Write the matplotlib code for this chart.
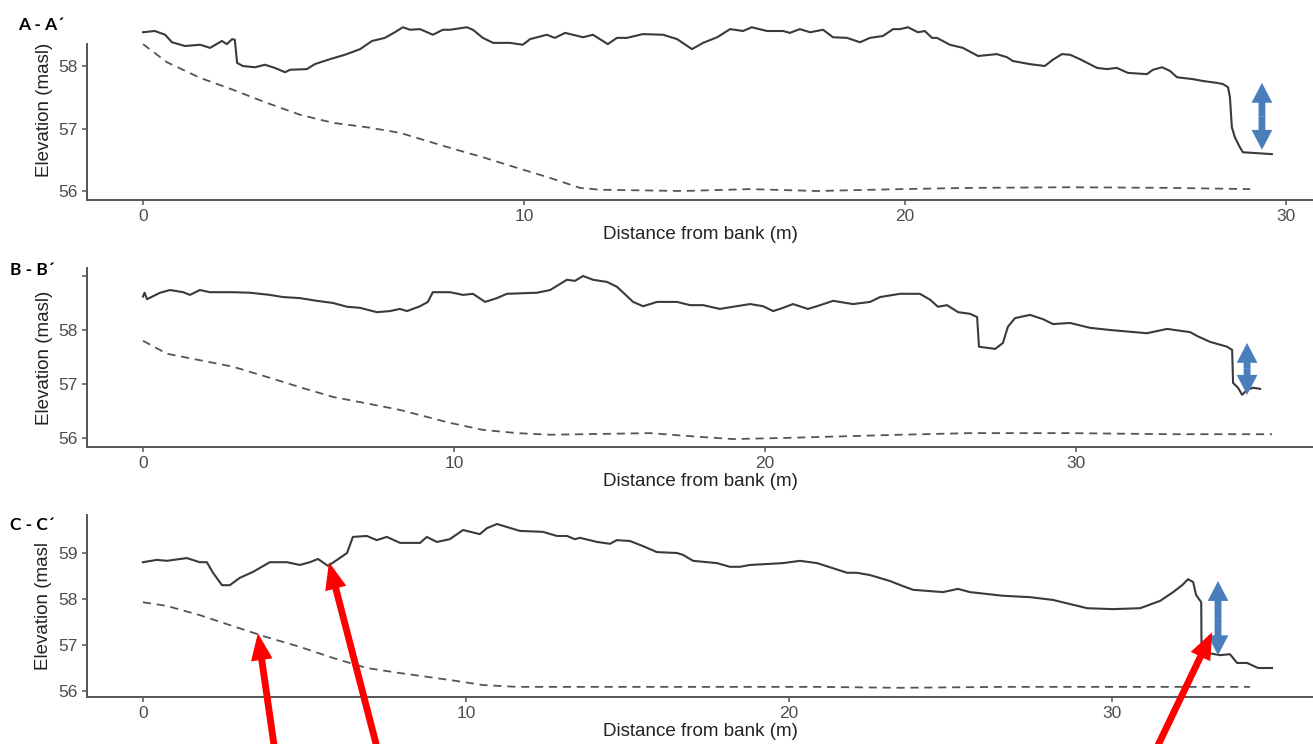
import matplotlib
matplotlib.use("Agg")
import matplotlib.pyplot as plt
from matplotlib.patches import Rectangle

plt.rcParams['font.family'] = ['Liberation Sans', 'DejaVu Sans']

# ---- data (distance m, elevation masl) ----
a_dist = [0.00, 0.31, 0.58, 0.76, 1.10, 1.50, 1.76, 2.07, 2.20, 2.34, 2.41, 2.47, 2.62, 2.94,
          3.20, 3.46, 3.73, 3.86, 4.30, 4.51, 4.91, 5.30, 5.70, 6.01, 6.35, 6.61, 6.82, 7.01,
          7.27, 7.61, 7.87, 8.06, 8.50, 8.66, 8.92, 9.19, 9.63, 9.97, 10.16, 10.60, 10.81,
          11.08, 11.55, 11.81, 12.20, 12.44, 12.70, 13.12, 13.65, 14.02, 14.41, 14.70, 15.07,
          15.41, 15.75, 15.98, 16.38, 16.80, 16.98, 17.24, 17.51, 17.85, 18.11, 18.48, 18.82,
          19.08, 19.42, 19.69, 19.87, 20.08, 20.34, 20.52, 20.71, 20.84, 21.18, 21.52, 21.92,
          22.41, 22.68, 22.83, 23.28, 23.67, 23.88, 24.12, 24.33, 24.59, 25.04, 25.30, 25.56,
          25.85, 26.35, 26.51, 26.75, 26.96, 27.14, 27.56, 27.82, 28.19, 28.35, 28.48, 28.53,
          28.58, 28.66, 28.79, 28.87, 29.13, 29.63]
a_surface = [58.54, 58.56, 58.50, 58.38, 58.32, 58.34, 58.29, 58.40, 58.35, 58.43, 58.42, 58.05,
             58.00, 57.98, 58.02, 57.97, 57.90, 57.94, 57.95, 58.03, 58.11, 58.18, 58.27, 58.40,
             58.45, 58.54, 58.62, 58.58, 58.59, 58.50, 58.58, 58.58, 58.62, 58.58, 58.45, 58.37,
             58.37, 58.34, 58.43, 58.50, 58.45, 58.53, 58.46, 58.50, 58.35, 58.45, 58.45, 58.51,
             58.50, 58.43, 58.27, 58.37, 58.46, 58.59, 58.56, 58.62, 58.56, 58.56, 58.53, 58.59,
             58.54, 58.58, 58.46, 58.45, 58.38, 58.45, 58.48, 58.59, 58.59, 58.62, 58.54, 58.56,
             58.45, 58.45, 58.34, 58.29, 58.16, 58.19, 58.14, 58.08, 58.03, 58.00, 58.10, 58.19,
             58.18, 58.11, 57.97, 57.95, 57.97, 57.89, 57.87, 57.94, 57.98, 57.92, 57.82, 57.79,
             57.76, 57.73, 57.71, 57.66, 57.50, 57.02, 56.86, 56.70, 56.62, 56.61, 56.59]
a_water_dist = [0.00, 0.63, 1.50, 2.36, 3.25, 4.12, 4.99, 5.88, 6.75, 8.06, 8.92, 9.82, 10.68,
                11.47, 12.00, 14.17, 15.93, 17.69, 19.87, 21.71, 24.33, 26.96, 29.06]
a_water = [58.35, 58.06, 57.81, 57.62, 57.41, 57.22, 57.09, 57.02, 56.93, 56.69, 56.54, 56.37,
           56.21, 56.05, 56.02, 56.00, 56.03, 56.00, 56.03, 56.05, 56.06, 56.05, 56.03]

b_dist = [0.00, 0.05, 0.13, 0.55, 0.87, 1.29, 1.51, 1.83, 2.15, 2.89, 3.44, 4.08, 4.50, 5.05,
          5.59, 6.11, 6.56, 6.98, 7.52, 7.94, 8.26, 8.49, 8.91, 9.16, 9.32, 9.87, 10.29, 10.61,
          11.00, 11.38, 11.70, 12.67, 13.09, 13.63, 13.89, 14.15, 14.47, 14.92, 15.24, 15.76,
          16.08, 16.53, 17.17, 17.59, 18.01, 18.55, 18.97, 19.52, 19.94, 20.26, 20.58, 20.90,
          21.38, 21.67, 22.19, 22.83, 23.38, 23.70, 24.34, 24.98, 25.31, 25.56, 25.85, 26.21,
          26.59, 26.82, 26.88, 27.14, 27.40, 27.65, 27.81, 28.04, 28.52, 28.94, 29.26, 29.81,
          30.45, 31.09, 32.28, 32.93, 33.67, 33.89, 34.31, 34.86, 35.02, 35.05, 35.21, 35.34,
          35.50, 35.69, 35.92]
b_surface = [58.62, 58.69, 58.57, 58.69, 58.74, 58.70, 58.65, 58.74, 58.70, 58.70, 58.69, 58.65,
             58.61, 58.59, 58.54, 58.50, 58.43, 58.41, 58.33, 58.35, 58.39, 58.35, 58.44, 58.52,
             58.70, 58.70, 58.65, 58.67, 58.52, 58.59, 58.67, 58.69, 58.74, 58.93, 58.91, 59.00,
             58.93, 58.89, 58.80, 58.52, 58.44, 58.52, 58.52, 58.46, 58.46, 58.39, 58.43, 58.48,
             58.44, 58.35, 58.41, 58.48, 58.39, 58.44, 58.54, 58.48, 58.52, 58.61, 58.67, 58.67,
             58.56, 58.43, 58.46, 58.33, 58.30, 58.24, 57.69, 57.67, 57.65, 57.76, 58.06, 58.22,
             58.28, 58.20, 58.11, 58.13, 58.04, 58.00, 57.94, 58.02, 57.96, 57.89, 57.78, 57.69,
             57.63, 57.02, 56.93, 56.80, 56.89, 56.93, 56.91]
b_water_dist = [0.00, 0.77, 1.83, 2.89, 3.99, 5.05, 6.11, 7.20, 8.26, 9.87, 10.93, 12.03, 13.09,
                16.30, 17.91, 18.97, 20.58, 24.34, 26.59, 29.81, 33.02, 36.30]
b_water = [57.80, 57.56, 57.44, 57.32, 57.13, 56.94, 56.76, 56.64, 56.52, 56.28, 56.15, 56.09,
           56.06, 56.09, 56.02, 55.98, 56.00, 56.06, 56.09, 56.09, 56.07, 56.07]

c_dist = [0.00, 0.43, 0.74, 1.36, 1.76, 1.98, 2.17, 2.45, 2.69, 3.00, 3.41, 3.93, 4.46, 4.86,
          5.17, 5.42, 5.73, 6.01, 6.32, 6.50, 6.93, 7.24, 7.55, 7.96, 8.58, 8.79, 9.10, 9.50,
          9.91, 10.43, 10.65, 10.96, 11.67, 12.38, 12.82, 13.13, 13.37, 13.53, 14.06, 14.46,
          14.67, 15.08, 15.48, 15.91, 16.53, 16.72, 17.03, 17.77, 18.17, 18.48, 18.79, 19.81,
          20.34, 20.87, 21.36, 21.80, 22.10, 22.51, 23.13, 23.53, 23.84, 24.77, 25.23, 25.60,
          26.63, 27.46, 28.17, 29.23, 30.03, 30.87, 31.49, 31.89, 32.17, 32.35, 32.51, 32.60,
          32.76, 32.77, 32.94, 33.34, 33.65, 33.87, 34.18, 34.52, 34.95]
c_surface = [58.80, 58.85, 58.83, 58.89, 58.80, 58.80, 58.57, 58.30, 58.30, 58.46, 58.59, 58.80,
             58.80, 58.74, 58.80, 58.87, 58.72, 58.85, 59.00, 59.35, 59.37, 59.28, 59.35, 59.22,
             59.22, 59.35, 59.24, 59.30, 59.50, 59.41, 59.54, 59.63, 59.48, 59.46, 59.37, 59.37,
             59.30, 59.33, 59.24, 59.20, 59.28, 59.26, 59.15, 59.02, 59.00, 58.96, 58.83, 58.78,
             58.70, 58.70, 58.74, 58.78, 58.83, 58.78, 58.67, 58.57, 58.57, 58.52, 58.39, 58.28,
             58.20, 58.15, 58.22, 58.15, 58.07, 58.04, 57.98, 57.80, 57.78, 57.80, 57.96, 58.15,
             58.30, 58.43, 58.37, 58.09, 57.93, 56.85, 56.83, 56.78, 56.80, 56.61, 56.61, 56.50,
             56.50]
c_water_dist = [0.00, 0.74, 1.76, 2.79, 3.84, 4.86, 5.88, 6.93, 7.96, 9.50, 10.53, 11.58, 14.67,
                17.77, 20.87, 23.44, 26.63, 30.03, 34.27]
c_water = [57.93, 57.85, 57.65, 57.41, 57.17, 56.96, 56.72, 56.50, 56.39, 56.24, 56.13, 56.09,
           56.09, 56.09, 56.09, 56.07, 56.09, 56.09, 56.09]

panel_labels = ["A - A\u00b4", "B - B\u00b4", "C - C\u00b4"]
y_titles = ["Elevation (masl)", "Elevation (masl)", "Elevation (masl"]

# bank-height arrows (x, top, bottom) and red pointer tips in panel C
bank_arrows = [(29.37, 57.73, 56.66), (35.5, 57.76, 56.80), (33.28, 58.39, 56.78)]
red_tips = [(3.56, 57.26), (5.76, 58.80), (33.1, 57.28)]
red_tails = [(0.2094, -0.01), (0.2879, -0.01), (0.8797, -0.01)]

panels = [
    (a_dist, a_surface, a_water_dist, a_water),
    (b_dist, b_surface, b_water_dist, b_water),
    (c_dist, c_surface, c_water_dist, c_water),
]
xlims = [(-1.47, 30.71), (-1.80, 37.62), (-1.73, 36.22)]
ylims = [(55.856, 58.752), (55.833, 59.148), (55.87, 59.826)]
yticks = [[56, 57, 58], [56, 57, 58, 59], [56, 57, 58, 59]]
yticklabels = [["56", "57", "58"], ["56", "57", "58", ""], ["56", "57", "58", "59"]]
# pixel boxes (top, bottom) of each panel
boxes = [(19, 200), (268, 447), (515, 697)]
label_pos = [(18, 25), (10, 270), (10, 525)]

W, H = 1313, 744
fig = plt.figure(figsize=(W / 100, H / 100), dpi=100)

blue = '#4a7ebb'
axes = []
for i, (dist, surf, wdist, water) in enumerate(panels):
    top, bot = boxes[i]
    ax = fig.add_axes([87 / W, 1 - bot / H, (W - 87) / W, (bot - top) / H])
    ax.plot(dist, surf, color='#3a3a3a', lw=1.5, solid_joinstyle='round')
    ax.plot(wdist, water, color='#555555', lw=1.3, ls=(0, (4.5, 3.2)))
    ax.set_xlim(*xlims[i])
    ax.set_ylim(*ylims[i])
    ax.set_xticks([0, 10, 20, 30])
    ax.set_yticks(yticks[i])
    ax.set_yticklabels(yticklabels[i])
    for s in ['top', 'right']:
        ax.spines[s].set_visible(False)
    for s in ['left', 'bottom']:
        ax.spines[s].set_color('#555555')
        ax.spines[s].set_linewidth(1.4)
    ax.tick_params(colors='#555555', labelcolor='#4d4d4d', labelsize=12.5,
                   length=3.8, width=1.1, pad=3)
    ax.set_xlabel("Distance from bank (m)", fontsize=13.5, color='#222222', labelpad=1)
    ax.set_ylabel(y_titles[i], fontsize=13.5, color='#222222', labelpad=4)

    # double-headed bank height arrow: two solid arrows from the middle
    bx, btop, bbot = bank_arrows[i]
    mid = (btop + bbot) / 2
    for end in (btop, bbot):
        ax.annotate('', xy=(bx, end), xytext=(bx, mid),
                    arrowprops=dict(arrowstyle='simple,head_length=1.1,head_width=1.15,tail_width=0.38',
                                    facecolor=blue, edgecolor='none', lw=0,
                                    shrinkA=0, shrinkB=0, mutation_scale=13))
    axes.append(ax)

# red pointers from below the figure into panel C
for tip, tail in zip(red_tips, red_tails):
    axes[2].annotate('', xy=tip, xycoords='data', xytext=tail, textcoords='figure fraction',
                     annotation_clip=False,
                     arrowprops=dict(arrowstyle='simple,head_length=1.5,head_width=1.2,tail_width=0.38',
                                     facecolor='#ff0000', edgecolor='none', lw=0,
                                     shrinkA=0, shrinkB=0, mutation_scale=13))

# white label boxes that hide the top of the axis lines
fig.patches.append(Rectangle((0, 1 - 43 / H), 93 / W, 43 / H, transform=fig.transFigure,
                             facecolor='white', edgecolor='none', zorder=5))
fig.patches.append(Rectangle((0, 1 - 282 / H), 80 / W, 30 / H, transform=fig.transFigure,
                             facecolor='white', edgecolor='none', zorder=5))

for lab, (lx, ly) in zip(panel_labels, label_pos):
    fig.text(lx / W, 1 - ly / H, lab, fontsize=12.5, fontweight='bold', family='Lato',
             ha='left', va='center', zorder=6)

fig.savefig('out.png', dpi=100)
